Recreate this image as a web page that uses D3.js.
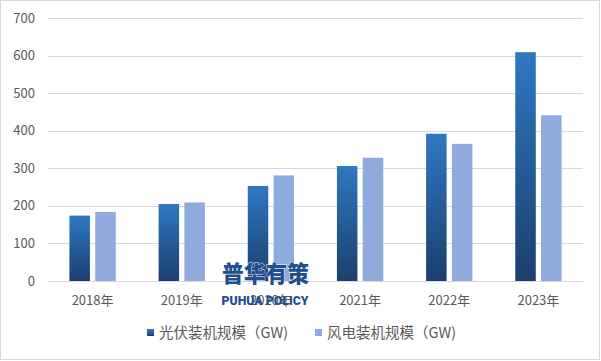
<!DOCTYPE html>
<html>
<head>
<meta charset="utf-8">
<script src="https://cdn.jsdelivr.net/npm/d3@7"></script>
<style>
  body { margin: 0; background: #fff; }
  svg { display: block; font-family: "Noto Sans CJK SC", "Noto Sans", sans-serif; }
</style>
</head>
<body>
<svg id="js-svg" width="601" height="361"></svg>
<script>
const years = ["2018年", "2019年", "2020年", "2021年", "2022年", "2023年"];
const seriesNames = ["光伏装机规模（GW)", "风电装机规模（GW)"];
const solar = [174, 205, 253, 306, 392, 609];
const wind = [184, 209, 281, 328, 365, 441];
const yTicks = [0, 100, 200, 300, 400, 500, 600, 700];

const rows = years.map((y, i) => ({ year: y, values: [solar[i], wind[i]] }));

const svg = d3.select("#js-svg");
const plot = { left: 48, right: 583, top: 18, bottom: 281 };

// border
svg.append("rect")
  .attr("x", 0.5).attr("y", 0.5)
  .attr("width", 599).attr("height", 359)
  .attr("fill", "#fff").attr("stroke", "#d9d9d9");

const defs = svg.append("defs");
const grad = defs.append("linearGradient")
  .attr("id", "solarGrad")
  .attr("x1", 0).attr("y1", 0).attr("x2", 0).attr("y2", 1);
grad.append("stop").attr("offset", "0%").attr("stop-color", "#2e78c2");
grad.append("stop").attr("offset", "100%").attr("stop-color", "#1b3f6e");

const x0 = d3.scaleBand().domain(years).range([plot.left, plot.right]);
const x1 = d3.scaleBand().domain([0, 1]).range([0, 46.3]).paddingInner(0.205);
const y = d3.scaleLinear().domain([0, 700]).range([plot.bottom, plot.top]);

const colors = ["url(#solarGrad)", "#8faadc"];

// gridlines
svg.append("g")
  .selectAll("line")
  .data(yTicks)
  .join("line")
  .attr("x1", plot.left).attr("x2", plot.right)
  .attr("y1", d => Math.round(y(d)) + 0.5)
  .attr("y2", d => Math.round(y(d)) + 0.5)
  .attr("stroke", "#d9d9d9");

// y labels
svg.append("g")
  .selectAll("text")
  .data(yTicks)
  .join("text")
  .attr("x", 35)
  .attr("y", d => y(d))
  .attr("dy", "0.35em")
  .attr("text-anchor", "end")
  .attr("font-size", 13)
  .attr("fill", "#595959")
  .text(d => d);

// bars
const groups = svg.append("g")
  .selectAll("g")
  .data(rows)
  .join("g")
  .attr("transform", d => `translate(${x0(d.year) + x0.bandwidth() / 2 - 23.15},0)`);

groups.selectAll("rect")
  .data(d => d.values.map((v, i) => ({ v, i })))
  .join("rect")
  .attr("x", d => x1(d.i))
  .attr("width", x1.bandwidth())
  .attr("y", d => y(d.v))
  .attr("height", d => y(0) - y(d.v))
  .attr("fill", d => colors[d.i]);

// x labels
svg.append("g")
  .selectAll("text")
  .data(years)
  .join("text")
  .attr("x", d => x0(d) + x0.bandwidth() / 2)
  .attr("y", 300)
  .attr("dy", "0.35em")
  .attr("text-anchor", "middle")
  .attr("font-size", 13)
  .attr("fill", "#595959")
  .text(d => d);

// watermark
const wm = svg.append("g").attr("fill", "#1f4f8f").attr("font-weight", 900);
wm.append("text")
  .attr("x", 265.5).attr("y", 282)
  .attr("text-anchor", "middle")
  .attr("font-size", 23)
  .attr("textLength", 87)
  .attr("lengthAdjust", "spacingAndGlyphs")
  .attr("stroke", "#fff").attr("stroke-width", 0.8)
  .attr("paint-order", "stroke")
  .text("普华有策");
wm.append("text")
  .attr("x", 265).attr("y", 305)
  .attr("text-anchor", "middle")
  .attr("font-size", 13.5)
  .attr("font-family", "Roboto, sans-serif")
  .attr("textLength", 87)
  .attr("lengthAdjust", "spacingAndGlyphs")
  .text("PUHUA POLICY");

// legend
const legendX = [147, 315];
const legend = svg.append("g")
  .selectAll("g")
  .data(seriesNames)
  .join("g")
  .attr("transform", (d, i) => `translate(${legendX[i]},333)`);
legend.append("rect")
  .attr("x", 0).attr("y", -4)
  .attr("width", 7).attr("height", 7)
  .attr("fill", (d, i) => colors[i]);
legend.append("text")
  .attr("x", 12)
  .attr("dy", "0.35em")
  .attr("font-size", 14.5)
  .attr("fill", "#595959")
  .text(d => d);
</script>
</body>
</html>
